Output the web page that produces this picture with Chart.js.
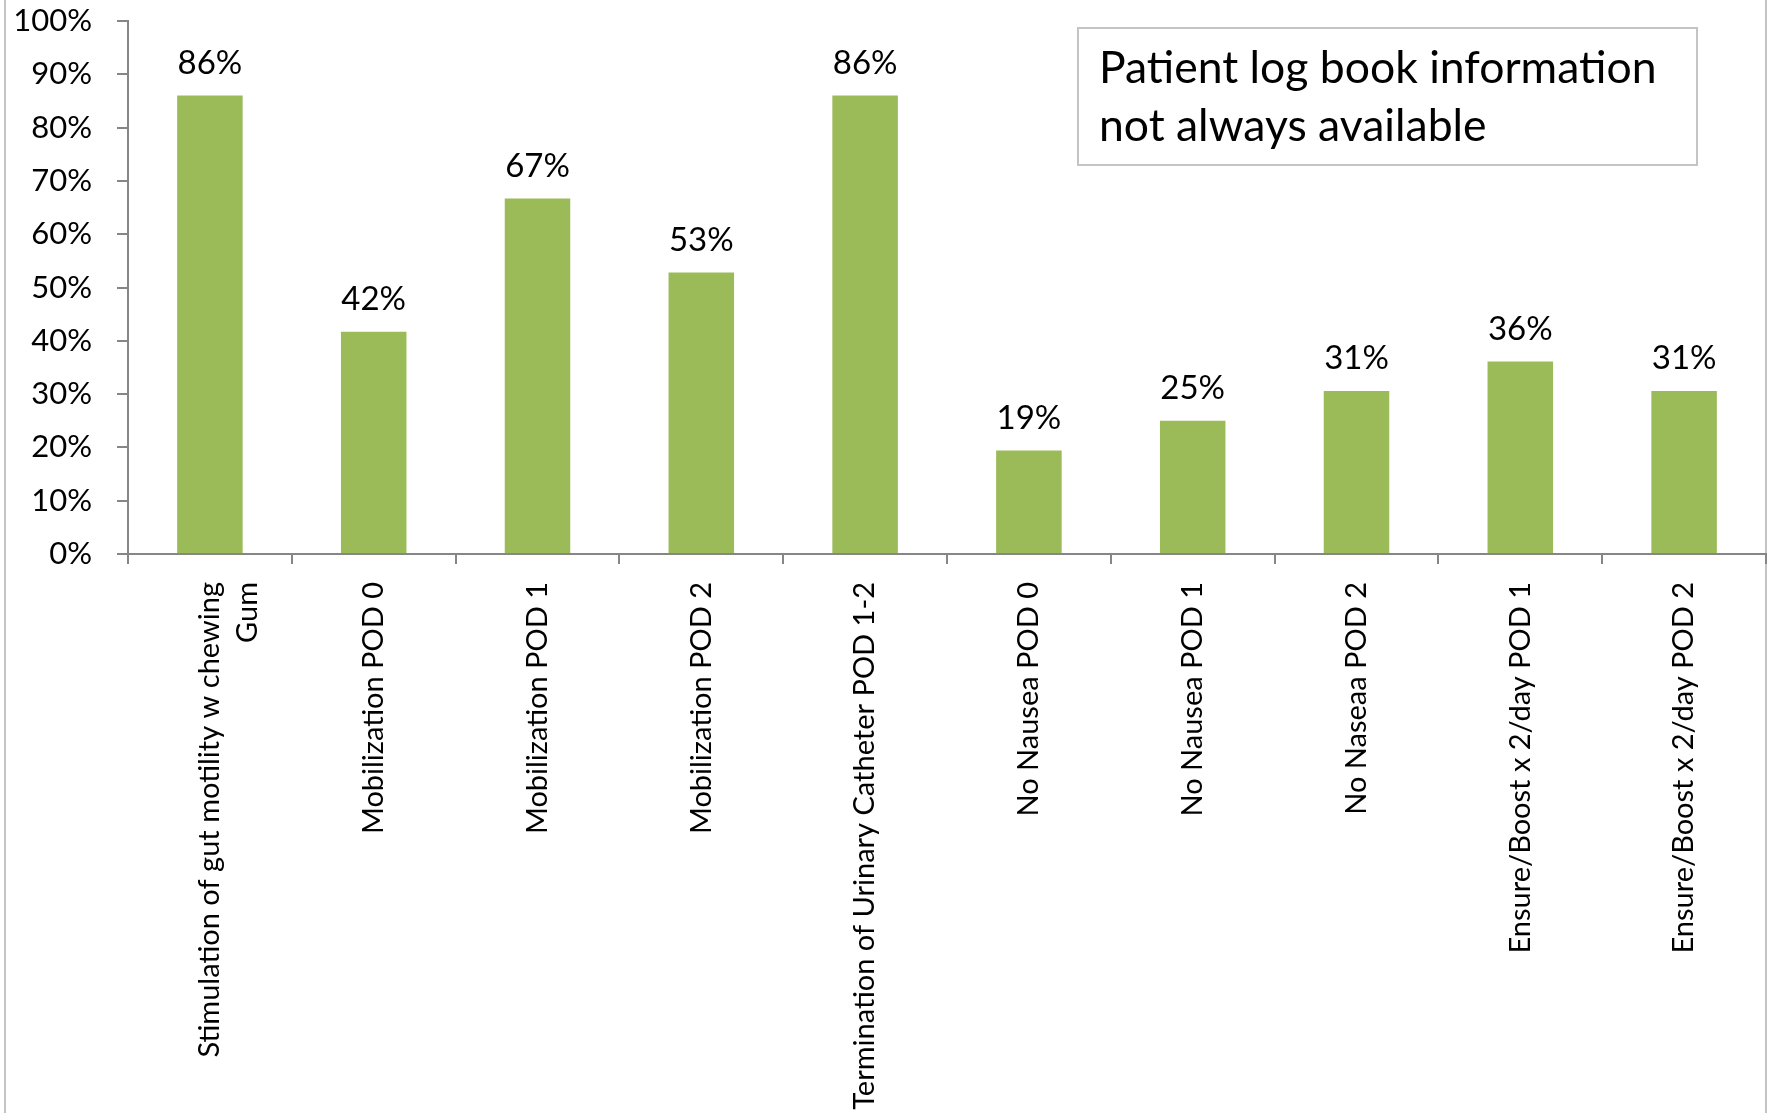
<!DOCTYPE html>
<html>
<head>
<meta charset="utf-8">
<script src="https://cdn.jsdelivr.net/npm/chart.js@4/dist/chart.umd.min.js"></script>
<style>
  html, body { margin: 0; padding: 0; background: #fff; overflow: hidden; }
  #wrap { position: relative; width: 1769px; height: 1113px; }
  #frame { position: absolute; left: 4px; top: -2px; width: 1759px; height: 1120px;
           border-left: 2px solid #c4c4c4; border-right: 2px solid #c4c4c4; }
  #note { position: absolute; left: 1077px; top: 27px; width: 597px; height: 127px;
          border: 2px solid #c4c4c4; padding-left: 20px; font-family: Lato, sans-serif;
          font-size: 44.5px; line-height: 58px; color: #000; box-sizing: content-box; padding-top: 8px; }
  canvas { position: absolute; left: 0; top: 0; }
</style>
</head>
<body>
<div id="wrap">
  <div id="frame"></div>
  <canvas id="myChart" width="1769" height="1113"></canvas>
  <div id="note">Patient log book information<br>not always available</div>
</div>
<script>
var categorie = [
  ['Stimulation of gut motility w chewing', 'Gum'],
  'Mobilization POD 0',
  'Mobilization POD 1',
  'Mobilization POD 2',
  'Termination of Urinary Catheter POD 1-2',
  'No Nausea POD 0',
  'No Nausea POD 1',
  'No Naseaa POD 2',
  'Ensure/Boost x 2/day POD 1',
  'Ensure/Boost x 2/day POD 2'
]
var valori = [86, 41.7, 66.7, 52.8, 86, 19.4, 25, 30.6, 36.1, 30.6]
var tickY = [0, 10, 20, 30, 40, 50, 60, 70, 80, 90, 100]

var font = 'Lato'
var grigio = '#868686'

// etichette sopra le barre
const etichette = {
  id: 'etichette',
  afterDatasetsDraw(chart) {
    const ctx = chart.ctx
    const meta = chart.getDatasetMeta(0)
    ctx.save()
    ctx.font = '33px ' + font
    ctx.fillStyle = '#000'
    ctx.textAlign = 'center'
    ctx.textBaseline = 'bottom'
    meta.data.forEach(function (bar, i) {
      ctx.fillText(Math.round(valori[i]) + '%', bar.x, bar.y - 16)
    })
    ctx.restore()
  }
}

const ctx = document.getElementById('myChart')

new Chart(ctx, {
  type: 'bar',
  data: {
    labels: categorie,
    datasets: [{
      label: 'valori',
      data: valori,
      backgroundColor: '#9BBB59',
      barPercentage: 0.4,
      categoryPercentage: 1
    }]
  },
  options: {
    responsive: false,
    animation: false,
    layout: { padding: { top: 21, right: 3, left: 0, bottom: 0 } },
    plugins: {
      legend: { display: false },
      tooltip: { enabled: false }
    },
    scales: {
      x: {
        grid: { drawOnChartArea: false, tickLength: 10, color: grigio, lineWidth: 2 },
        border: { color: grigio, width: 2 },
        ticks: {
          minRotation: 90, maxRotation: 90, autoSkip: false,
          padding: 18, color: '#000',
          font: { family: font, size: 29, lineHeight: 1.3 }
        },
        afterFit: function (scale) {
          scale.height = 559
          scale.paddingTop = 0
          scale.paddingBottom = 0
        }
      },
      y: {
        min: 0, max: 100,
        afterBuildTicks: function (scale) { scale.ticks = tickY.map(function (v) { return { value: v } }) },
        grid: { drawOnChartArea: false, tickLength: 11, color: grigio, lineWidth: 2 },
        border: { color: grigio, width: 2 },
        ticks: {
          padding: 25, color: '#000',
          font: { family: font, size: 31 },
          callback: function (v) { return v + '%' }
        },
        afterFit: function (scale) {
          scale.width = 128
          scale.paddingTop = 0
          scale.paddingBottom = 0
        }
      }
    }
  },
  plugins: [etichette]
})
</script>
</body>
</html>
